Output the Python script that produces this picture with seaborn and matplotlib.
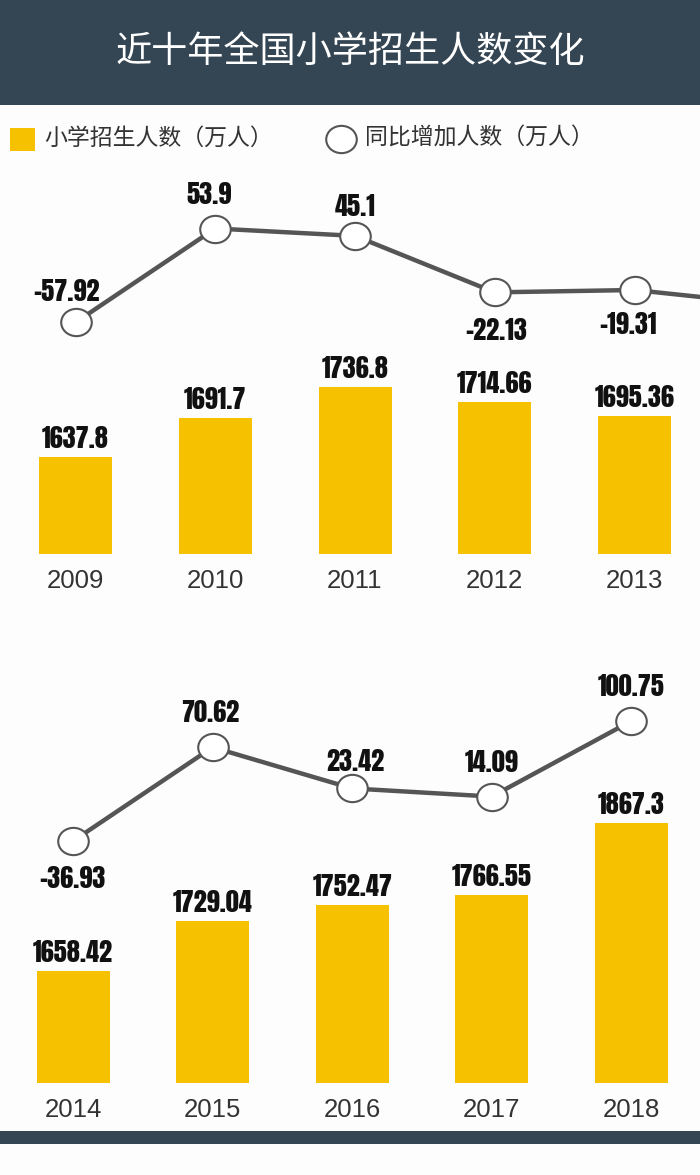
import matplotlib
matplotlib.use("Agg")
import matplotlib.pyplot as plt
import seaborn as sns
import pandas as pd
from matplotlib.patches import Rectangle
from matplotlib.lines import Line2D
from matplotlib.path import Path
from matplotlib.transforms import Affine2D

# ---- data ----
years_top = ["2009", "2010", "2011", "2012", "2013"]
enroll_top = [1637.8, 1691.7, 1736.8, 1714.66, 1695.36]
years_bot = ["2014", "2015", "2016", "2017", "2018"]
enroll_bot = [1658.42, 1729.04, 1752.47, 1766.55, 1867.3]
change_top = [-57.92, 53.9, 45.1, -22.13, -19.31]
change_bot = [-36.93, 70.62, 23.42, 14.09, 100.75]
change_top_labels = ["-57.92", "53.9", "45.1", "-22.13", "-19.31"]
change_bot_labels = ["-36.93", "70.62", "23.42", "14.09", "100.75"]
enroll_top_labels = ["1637.8", "1691.7", "1736.8", "1714.66", "1695.36"]
enroll_bot_labels = ["1658.42", "1729.04", "1752.47", "1766.55", "1867.3"]
title = "近十年全国小学招生人数变化"
legend_bar = "小学招生人数（万人）"
legend_line = "同比增加人数（万人）"

# ---- style (label offsets in pixels: dx, dy of text centre from the point) ----
off_top = [(-9, -31), (-6, -34), (0, -29), (1, 38), (-7, 35)]
off_bot = [(-1, 37), (-2, -35), (3, -27), (0, -34), (0, -34)]

sns.set_theme(style="white")
plt.rcParams['font.family'] = ['Noto Sans CJK SC', 'DejaVu Sans']

W, H = 700, 1175
BG = "#fdfdfd"
YEL = "#f6c200"
DARK = "#344553"
LINEC = "#555555"
NUMFONT = ['Anton', 'Bebas Neue', 'DejaVu Sans']
YEARFONT = ['Liberation Sans', 'DejaVu Sans']
PX = 72 / 100  # points per pixel
NUM_SIZE = 19
DIGIT_HALF = 9.5  # approx half digit height in px
ELLIPSE = Path.unit_circle().transformed(Affine2D().scale(1.12, 1.0))

fig = plt.figure(figsize=(W / 100, H / 100), dpi=100, facecolor=BG)


def fx(x):
    return x / W


def fy(y):
    return 1 - y / H


# title bar and bottom strip
fig.add_artist(Rectangle((0, fy(105)), 1, 105 / H, transform=fig.transFigure,
                         facecolor=DARK, edgecolor="none", zorder=0))
fig.add_artist(Rectangle((0, fy(1144)), 1, 13 / H, transform=fig.transFigure,
                         facecolor=DARK, edgecolor="none", zorder=0))
fig.text(0.5, fy(52), title, color="white", fontsize=26, fontweight="medium",
         ha="center", va="center")

# legend
fig.add_artist(Rectangle((fx(10), fy(151)), 25 / W, 23 / H, transform=fig.transFigure,
                         facecolor=YEL, edgecolor="none"))
fig.text(fx(44), fy(138), legend_bar, color="#333333", fontsize=16.5, ha="left", va="center")
fig.add_artist(Line2D([fx(341)], [fy(139)], transform=fig.transFigure, marker=ELLIPSE,
                      markersize=22, markerfacecolor="white", markeredgecolor=LINEC,
                      markeredgewidth=1.5, linestyle="none"))
fig.text(fx(365), fy(138), legend_line, color="#333333", fontsize=16.5, ha="left", va="center")


def panel(top_px, bottom_px, years, enroll, enroll_labels, change, change_labels,
          x0, sp, line_ref_val, line_ref_px, line_scale, offsets, extra_change=None):
    bar_base, bar_scale = 1500, 0.707
    ax = fig.add_axes([0, fy(bottom_px), 1, (bottom_px - top_px) / H])
    ax.set_facecolor("none")
    df = pd.DataFrame({"year": years, "enroll": enroll})
    sns.barplot(data=df, x="year", y="enroll", color=YEL, saturation=1,
                width=73 / sp, ax=ax, edgecolor="none")
    span = bottom_px - top_px
    ax.set_ylim(bar_base, bar_base + span / bar_scale)
    ax.set_xlim(-x0 / sp, (W - x0) / sp)
    for i, (v, lab) in enumerate(zip(enroll, enroll_labels)):
        ax.annotate(lab, (i, v), xytext=(0, (18.5 - DIGIT_HALF) * PX), textcoords="offset points",
                    ha="center", va="baseline", fontsize=NUM_SIZE,
                    family=NUMFONT, color="#111111")
    ax.tick_params(axis="x", length=0, pad=10.5, labelsize=18.5, labelcolor="#333333")
    for t in ax.get_xticklabels():
        t.set_family(YEARFONT)
    ax.set_yticks([])
    ax.set_xlabel("")
    ax.set_ylabel("")
    for s in ax.spines.values():
        s.set_visible(False)

    ax2 = ax.twinx()
    ax2.set_facecolor("none")
    top_val = line_ref_val + (line_ref_px - top_px) / line_scale
    bot_val = line_ref_val - (bottom_px - line_ref_px) / line_scale
    ax2.set_ylim(bot_val, top_val)
    xs = list(range(len(change)))
    ys = list(change)
    if extra_change is not None:
        xs.append(len(change))
        ys.append(extra_change)
    ldf = pd.DataFrame({"x": xs, "y": ys})
    sns.lineplot(data=ldf, x="x", y="y", ax=ax2, color=LINEC, linewidth=3.2, zorder=2)
    sns.scatterplot(x=list(range(len(change))), y=change, ax=ax2, s=22 ** 2,
                    marker=ELLIPSE, color="white", edgecolor=LINEC, linewidth=1.5, zorder=3)
    ax2.set_xlim(ax.get_xlim())
    for i, (v, lab) in enumerate(zip(change, change_labels)):
        dx, dy = offsets[i]
        ax2.annotate(lab, (i, v), xytext=(dx * PX, (-dy - DIGIT_HALF) * PX),
                     textcoords="offset points", ha="center", va="baseline",
                     fontsize=NUM_SIZE, family=NUMFONT, color="#111111")
    ax2.set_yticks([])
    ax2.set_xlabel("")
    ax2.set_ylabel("")
    for s in ax2.spines.values():
        s.set_visible(False)
    return ax, ax2


panel(170, 554, years_top, enroll_top, enroll_top_labels, change_top, change_top_labels,
      x0=75.5, sp=139.75, line_ref_val=53.9, line_ref_px=228.5, line_scale=0.84,
      offsets=off_top, extra_change=change_bot[0])

panel(660, 1083, years_bot, enroll_bot, enroll_bot_labels, change_bot, change_bot_labels,
      x0=73, sp=139.6, line_ref_val=100.75, line_ref_px=721, line_scale=0.872,
      offsets=off_bot)

fig.savefig("out.png", dpi=100, facecolor=BG)
